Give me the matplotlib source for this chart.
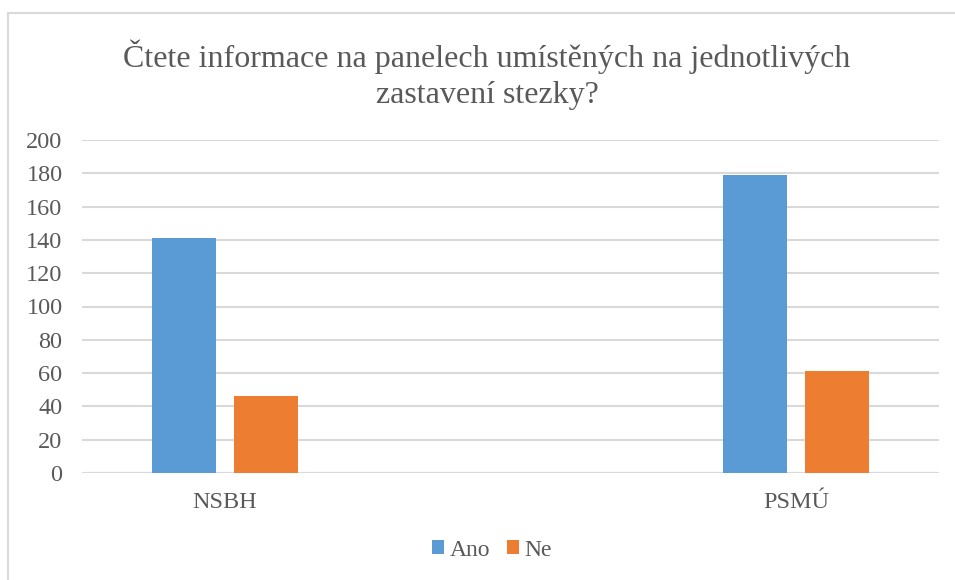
import numpy as np
import matplotlib.pyplot as plt
from matplotlib.patches import Rectangle

categories = ["NSBH", "PSMÚ"]
ano = [141, 179]
ne = [46, 61]
series_names = ["Ano", "Ne"]
colors = ["#5b9bd5", "#ed7d31"]
title = "Čtete informace na panelech umístěných na jednotlivých\nzastavení stezky?"

plt.rcParams['font.family'] = ['Liberation Serif', 'DejaVu Serif']
txt = "#595959"

fig = plt.figure(figsize=(9.55, 5.8), dpi=100)
W, H = 955, 580
ax = fig.add_axes([82 / W, (H - 473) / H, (939 - 82) / W, (473 - 140) / H])

# chart border (only left/top visible in the reference)
fig.patches.append(Rectangle((8 / W, -0.05), 1.1, (H - 13) / H + 0.05,
                             transform=fig.transFigure, fill=False,
                             edgecolor="#d9d9d9", linewidth=1.5))

x = np.arange(len(categories))
bw = 0.112
off = 0.0725
ax.bar(x - off, ano, bw, color=colors[0], label=series_names[0], zorder=3)
ax.bar(x + off, ne, bw, color=colors[1], label=series_names[1], zorder=3)

ax.set_xlim(-0.2505, 1.2505)
ax.set_ylim(0, 200)
ax.set_yticks(np.arange(0, 201, 20))
ax.yaxis.grid(True, color="#d9d9d9", linewidth=1.5, zorder=0)
ax.set_axisbelow(True)
for s in ax.spines.values():
    s.set_visible(False)
ax.axhline(0, color="#d9d9d9", linewidth=1.5, zorder=1)
ax.set_xticks(x)
ax.set_xticklabels(categories)
ax.tick_params(axis="y", length=0, pad=14, labelsize=17.5, labelcolor=txt)
ax.tick_params(axis="x", length=0, pad=14, labelsize=17.5, labelcolor=txt)

fig.text(487 / W, (H - 75) / H, title, ha="center", va="center",
         fontsize=23, color=txt, linespacing=1.3)

fig.legend(loc="center", bbox_to_anchor=(492 / W, (H - 550) / H), ncol=2,
           frameon=False, fontsize=17, handlelength=0.5, handleheight=0.5,
           handletextpad=0.25, columnspacing=0.7, labelcolor=txt)

fig.savefig("out.png", dpi=100)
